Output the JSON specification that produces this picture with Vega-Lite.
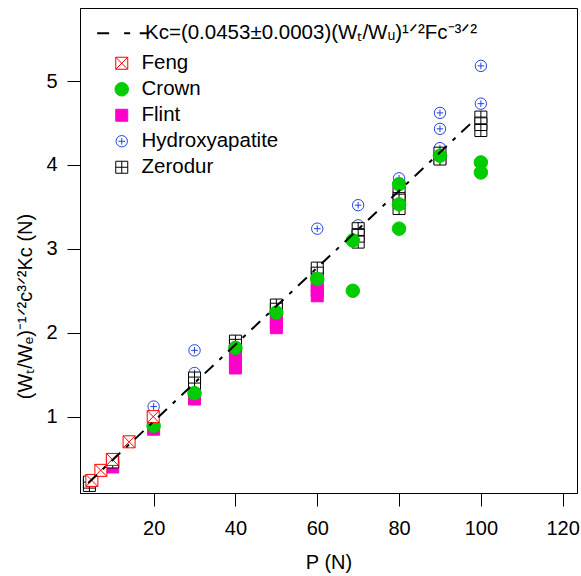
{
  "$schema": "https://vega.github.io/schema/vega-lite/v6.json",
  "width": 497,
  "height": 485,
  "autosize": {"type": "none"},
  "padding": {"left": 80, "top": 8, "right": 4, "bottom": 83},
  "background": "white",
  "config": {
    "view": {"stroke": "black", "strokeWidth": 1},
    "font": "Liberation Sans",
    "axis": {
      "domainColor": "black", "tickColor": "black", "labelColor": "black", "titleColor": "black",
      "labelFont": "Liberation Sans", "titleFont": "Liberation Sans",
      "labelFontSize": 20, "titleFontSize": 20, "titleFontWeight": "normal",
      "tickSize": 13, "grid": false, "domainWidth": 1, "tickWidth": 1
    },
    "legend": {
      "labelFont": "Liberation Sans", "labelFontSize": 20.5, "labelColor": "black",
      "labelLimit": 500, "symbolSize": 144, "symbolStrokeWidth": 1
    }
  },
  "layer": [
    {
      "data": {"values": [
        {"P": 10, "K": 0.40, "material": "Flint"},
        {"P": 20, "K": 0.85, "material": "Flint"},
        {"P": 30, "K": 1.26, "material": "Flint"},
        {"P": 30, "K": 1.21, "material": "Flint"},
        {"P": 40, "K": 1.78, "material": "Flint"},
        {"P": 40, "K": 1.71, "material": "Flint"},
        {"P": 40, "K": 1.64, "material": "Flint"},
        {"P": 40, "K": 1.58, "material": "Flint"},
        {"P": 50, "K": 2.18, "material": "Flint"},
        {"P": 50, "K": 2.12, "material": "Flint"},
        {"P": 50, "K": 2.06, "material": "Flint"},
        {"P": 60, "K": 2.56, "material": "Flint"},
        {"P": 60, "K": 2.50, "material": "Flint"},
        {"P": 60, "K": 2.44, "material": "Flint"},
        {"P": 70, "K": 3.15, "material": "Flint"},
        {"P": 80, "K": 3.62, "material": "Flint"},
        {"P": 90, "K": 4.08, "material": "Flint"},
        {"P": 20, "K": 1.12, "material": "Hydroxyapatite"},
        {"P": 30, "K": 1.79, "material": "Hydroxyapatite"},
        {"P": 30, "K": 1.52, "material": "Hydroxyapatite"},
        {"P": 60, "K": 3.24, "material": "Hydroxyapatite"},
        {"P": 70, "K": 3.52, "material": "Hydroxyapatite"},
        {"P": 70, "K": 3.28, "material": "Hydroxyapatite"},
        {"P": 80, "K": 3.84, "material": "Hydroxyapatite"},
        {"P": 90, "K": 4.62, "material": "Hydroxyapatite"},
        {"P": 90, "K": 4.43, "material": "Hydroxyapatite"},
        {"P": 90, "K": 4.20, "material": "Hydroxyapatite"},
        {"P": 100, "K": 5.18, "material": "Hydroxyapatite"},
        {"P": 100, "K": 4.73, "material": "Hydroxyapatite"},
        {"P": 4.3, "K": 0.18, "material": "Zerodur"},
        {"P": 4.3, "K": 0.22, "material": "Zerodur"},
        {"P": 10, "K": 0.46, "material": "Zerodur"},
        {"P": 30, "K": 1.46, "material": "Zerodur"},
        {"P": 30, "K": 1.40, "material": "Zerodur"},
        {"P": 40, "K": 1.90, "material": "Zerodur"},
        {"P": 40, "K": 1.85, "material": "Zerodur"},
        {"P": 50, "K": 2.33, "material": "Zerodur"},
        {"P": 50, "K": 2.28, "material": "Zerodur"},
        {"P": 60, "K": 2.77, "material": "Zerodur"},
        {"P": 60, "K": 2.71, "material": "Zerodur"},
        {"P": 70, "K": 3.24, "material": "Zerodur"},
        {"P": 70, "K": 3.16, "material": "Zerodur"},
        {"P": 70, "K": 3.08, "material": "Zerodur"},
        {"P": 80, "K": 3.67, "material": "Zerodur"},
        {"P": 80, "K": 3.58, "material": "Zerodur"},
        {"P": 80, "K": 3.48, "material": "Zerodur"},
        {"P": 90, "K": 4.14, "material": "Zerodur"},
        {"P": 90, "K": 4.07, "material": "Zerodur"},
        {"P": 100, "K": 4.57, "material": "Zerodur"},
        {"P": 100, "K": 4.49, "material": "Zerodur"},
        {"P": 100, "K": 4.41, "material": "Zerodur"},
        {"P": 20, "K": 0.89, "material": "Crown"},
        {"P": 30, "K": 1.28, "material": "Crown"},
        {"P": 40, "K": 1.82, "material": "Crown"},
        {"P": 50, "K": 2.24, "material": "Crown"},
        {"P": 60, "K": 2.64, "material": "Crown"},
        {"P": 68.7, "K": 3.10, "material": "Crown"},
        {"P": 68.7, "K": 2.50, "material": "Crown"},
        {"P": 80, "K": 3.77, "material": "Crown"},
        {"P": 80, "K": 3.53, "material": "Crown"},
        {"P": 80, "K": 3.24, "material": "Crown"},
        {"P": 90, "K": 4.11, "material": "Crown"},
        {"P": 100, "K": 4.03, "material": "Crown"},
        {"P": 100, "K": 3.91, "material": "Crown"},
        {"P": 4.9, "K": 0.24, "material": "Feng"},
        {"P": 7.1, "K": 0.36, "material": "Feng"},
        {"P": 9.9, "K": 0.49, "material": "Feng"},
        {"P": 14.0, "K": 0.70, "material": "Feng"},
        {"P": 19.9, "K": 1.00, "material": "Feng"}
      ]},
      "mark": {"type": "point", "opacity": 1, "strokeWidth": 1, "size": 144},
      "encoding": {
        "x": {"field": "P", "type": "quantitative",
          "scale": {"domain": [2, 123.5], "nice": false, "zero": false},
          "axis": {"values": [20, 40, 60, 80, 100, 120], "format": "d", "title": "P (N)", "labelPadding": 12, "titlePadding": 14}},
        "y": {"field": "K", "type": "quantitative",
          "scale": {"domain": [0.09, 5.87], "nice": false, "zero": false},
          "axis": {"values": [1, 2, 3, 4, 5], "format": "d", "title": "(Wₜ/Wₑ)⁻¹ᐟ²c³ᐟ²Kc (N)", "labelPadding": 10, "titlePadding": 10, "titleY": 298}},
        "shape": {"field": "material", "type": "nominal",
          "scale": {"domain": ["Feng", "Crown", "Flint", "Hydroxyapatite", "Zerodur"],
            "range": [
              "M-1,-1H1V1H-1Z M-1,-1L1,1 M1,-1L-1,1",
              "M1.12,0A1.12,1.12,0,1,1,-1.12,0A1.12,1.12,0,1,1,1.12,0Z",
              "M-1,-1H1V1H-1Z",
              "M0.95,0A0.95,0.95,0,1,1,-0.95,0A0.95,0.95,0,1,1,0.95,0Z M-0.55,0H0.55 M0,-0.55V0.55",
              "M-1,-1H1V1H-1Z M0,-1V1 M-1,0H1"
            ]},
          "legend": {"title": null, "orient": "none", "legendX": 31.5, "legendY": 45, "labelOffset": 9.5, "rowPadding": 5}},
        "fill": {"field": "material", "type": "nominal",
          "scale": {"domain": ["Feng", "Crown", "Flint", "Hydroxyapatite", "Zerodur"],
            "range": ["white", "#00cc00", "#ff00cc", "white", "white"]},
          "legend": {"title": null, "orient": "none", "legendX": 31.5, "legendY": 45, "labelOffset": 9.5, "rowPadding": 5}},
        "stroke": {"field": "material", "type": "nominal",
          "scale": {"domain": ["Feng", "Crown", "Flint", "Hydroxyapatite", "Zerodur"],
            "range": ["#ff0000", "#00cc00", "#ff00cc", "#2244dd", "black"]},
          "legend": {"title": null, "orient": "none", "legendX": 31.5, "legendY": 45, "labelOffset": 9.5, "rowPadding": 5}}
      }
    },
    {
      "data": {"values": [
        {"P": 4, "K": 0.21, "fit": "Kc=(0.0453±0.0003)(Wₜ/Wᵤ)¹ᐟ²Fc⁻³ᐟ²"},
        {"P": 98.1, "K": 4.52, "fit": "Kc=(0.0453±0.0003)(Wₜ/Wᵤ)¹ᐟ²Fc⁻³ᐟ²"}
      ]},
      "mark": {"type": "line", "stroke": "black", "strokeWidth": 2},
      "encoding": {
        "x": {"field": "P", "type": "quantitative"},
        "y": {"field": "K", "type": "quantitative"},
        "strokeDash": {"field": "fit", "type": "nominal",
          "scale": {"range": [[12, 8, 4, 8]]},
          "legend": {"title": null, "orient": "none", "legendX": 31.5, "legendY": 15, "labelOffset": 13,
            "symbolType": "M-4.1,0H-1.9M0.4,0H1.4M3.0,0H4.6", "symbolStrokeWidth": 2, "symbolStrokeColor": "black"}}
      }
    }
  ]
}
